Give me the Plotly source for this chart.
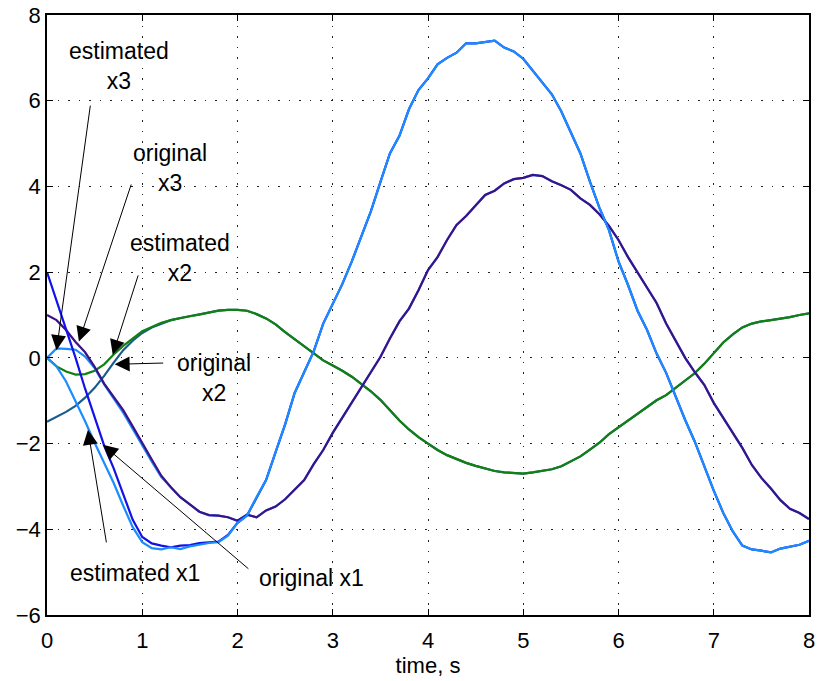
import numpy as np
import plotly.graph_objects as go

# time axis (s), sampled every 0.1 s
t = np.round(np.arange(0, 8.0001, 0.1), 1)

est_x1 = [0.0, -0.2, -0.55, -1.0, -1.48, -1.98, -2.45, -2.92, -3.45, -3.95,
          -4.30, -4.44, -4.47, -4.42, -4.46, -4.40, -4.36, -4.32, -4.30, -4.15,
          -3.85, -3.68, -3.25, -2.85, -2.20, -1.55, -0.82, -0.35, 0.15, 0.80,
          1.25, 1.72, 2.25, 2.85, 3.42, 4.10, 4.77, 5.18, 5.80, 6.25,
          6.52, 6.85, 7.00, 7.12, 7.34, 7.34, 7.37, 7.40, 7.24, 7.15,
          6.98, 6.70, 6.42, 6.15, 5.75, 5.25, 4.77, 4.11, 3.50, 2.98,
          2.25, 1.70, 1.10, 0.65, 0.10, -0.35, -0.90, -1.45, -1.95, -2.54,
          -3.10, -3.62, -4.05, -4.38, -4.47, -4.50, -4.54, -4.45, -4.40, -4.36,
          -4.27]

orig_x1 = [2.0, 1.35, 0.70, 0.0, -0.72, -1.38, -2.05, -2.58, -3.16, -3.78,
           -4.18, -4.33, -4.38, -4.42, -4.38, -4.37, -4.32, -4.30, -4.29, -4.13,
           -3.85, -3.68, -3.25, -2.85, -2.20, -1.55, -0.82, -0.35, 0.15, 0.80,
           1.25, 1.72, 2.25, 2.85, 3.42, 4.10, 4.77, 5.18, 5.80, 6.25,
           6.52, 6.85, 7.00, 7.12, 7.34, 7.34, 7.37, 7.40, 7.24, 7.15,
           6.98, 6.70, 6.42, 6.15, 5.75, 5.25, 4.77, 4.11, 3.50, 2.98,
           2.25, 1.70, 1.10, 0.65, 0.10, -0.35, -0.90, -1.45, -1.95, -2.54,
           -3.10, -3.62, -4.05, -4.38, -4.47, -4.50, -4.54, -4.45, -4.40, -4.36,
           -4.27]

orig_x2 = [-1.49, -1.38, -1.26, -1.12, -0.93, -0.70, -0.42, -0.11, 0.18, 0.40,
           0.58, 0.71, 0.80, 0.88, 0.93, 0.97, 1.01, 1.05, 1.10, 1.12,
           1.12, 1.10, 1.02, 0.92, 0.78, 0.60, 0.43, 0.26, 0.10, -0.06,
           -0.18, -0.30, -0.44, -0.60, -0.78, -0.98, -1.22, -1.46, -1.67, -1.85,
           -2.00, -2.15, -2.27, -2.36, -2.45, -2.52, -2.58, -2.64, -2.67, -2.69,
           -2.70, -2.67, -2.63, -2.60, -2.53, -2.42, -2.30, -2.14, -1.98, -1.78,
           -1.62, -1.45, -1.30, -1.13, -0.99, -0.87, -0.70, -0.55, -0.36, -0.14,
           0.12, 0.36, 0.55, 0.71, 0.80, 0.85, 0.88, 0.91, 0.95, 1.00,
           1.04]

est_x2 = [0.0, -0.20, -0.32, -0.39, -0.38, -0.30, -0.15, 0.08, 0.28, 0.46,
          0.62, 0.72, 0.82, 0.88, 0.93, 0.97, 1.01, 1.05, 1.10, 1.12,
          1.12, 1.10, 1.02, 0.92, 0.78, 0.60, 0.43, 0.26, 0.10, -0.06,
          -0.18, -0.30, -0.44, -0.60, -0.78, -0.98, -1.22, -1.46, -1.67, -1.85,
          -2.00, -2.15, -2.27, -2.36, -2.45, -2.52, -2.58, -2.64, -2.67, -2.69,
          -2.70, -2.67, -2.63, -2.60, -2.53, -2.42, -2.30, -2.14, -1.98, -1.78,
          -1.62, -1.45, -1.30, -1.13, -0.99, -0.87, -0.70, -0.55, -0.36, -0.14,
          0.12, 0.36, 0.55, 0.71, 0.80, 0.85, 0.88, 0.91, 0.95, 1.00,
          1.04]

orig_x3 = [1.00, 0.88, 0.65, 0.37, 0.13, -0.21, -0.60, -0.90, -1.22, -1.60,
           -2.00, -2.37, -2.75, -3.02, -3.25, -3.42, -3.59, -3.67, -3.68, -3.72,
           -3.80, -3.66, -3.72, -3.56, -3.47, -3.30, -3.08, -2.85, -2.48, -2.15,
           -1.75, -1.40, -1.06, -0.69, -0.33, 0.02, 0.45, 0.85, 1.15, 1.58,
           2.05, 2.35, 2.75, 3.10, 3.31, 3.56, 3.80, 3.90, 4.07, 4.17,
           4.20, 4.27, 4.24, 4.12, 4.03, 3.92, 3.72, 3.57, 3.35, 3.08,
           2.75, 2.35, 2.00, 1.62, 1.28, 0.80, 0.40, 0.00, -0.33, -0.63,
           -1.05, -1.40, -1.72, -2.10, -2.50, -2.80, -3.05, -3.32, -3.52, -3.62,
           -3.76]

est_x3 = [0.0, 0.22, 0.21, 0.19, 0.03, -0.24, -0.62, -0.95, -1.28, -1.66,
          -2.05, -2.42, -2.78, -3.02, -3.25, -3.42, -3.59, -3.67, -3.68, -3.72,
          -3.80, -3.66, -3.72, -3.56, -3.47, -3.30, -3.08, -2.85, -2.48, -2.15,
          -1.75, -1.40, -1.06, -0.69, -0.33, 0.02, 0.45, 0.85, 1.15, 1.58,
          2.05, 2.35, 2.75, 3.10, 3.31, 3.56, 3.80, 3.90, 4.07, 4.17,
          4.20, 4.27, 4.24, 4.12, 4.03, 3.92, 3.72, 3.57, 3.35, 3.08,
          2.75, 2.35, 2.00, 1.62, 1.28, 0.80, 0.40, 0.00, -0.33, -0.63,
          -1.05, -1.40, -1.72, -2.10, -2.50, -2.80, -3.05, -3.32, -3.52, -3.62,
          -3.76]

x_ticks = [0, 1, 2, 3, 4, 5, 6, 7, 8]
y_ticks = [-6, -4, -2, 0, 2, 4, 6, 8]

label_text = ["estimated<br>x3", "original<br>x3", "estimated<br>x2",
              "original<br>x2", "estimated x1", "original x1"]
label_pos = [(0.752, 6.81), (1.288, 4.44), (1.393, 2.32),
             (1.75, -0.47), (0.92, -5.02), (2.78, -5.14)]
arrow_head = [(0.10, 0.18), (0.335, 0.38), (0.69, 0.07),
              (0.71, -0.15), (0.43, -1.68), (0.587, -2.03)]
arrow_tail = [(0.457, 5.92), (0.889, 4.08), (0.962, 1.96),
              (1.236, -0.12), (0.626, -4.34), (2.13, -4.95)]

C_LBLUE = "#1A8CFF"
C_BLUE = "#1212E8"
C_TEAL = "#1B5B8C"
C_GREEN = "#128012"
C_PURPLE = "#3D1188"

fig = go.Figure()
series = [
    ("original x2", orig_x2, C_TEAL),
    ("estimated x2", est_x2, C_GREEN),
    ("estimated x3", est_x3, C_LBLUE),
    ("original x3", orig_x3, C_PURPLE),
    ("original x1", orig_x1, C_BLUE),
    ("estimated x1", est_x1, C_LBLUE),
]
for name, ys, col in series:
    fig.add_trace(go.Scatter(x=t, y=ys, mode="lines", name=name,
                             line=dict(color=col, width=2.2)))

FONT = "Liberation Sans, Arial, Helvetica, sans-serif"
ann = []
for txt, (tx, ty) in zip(label_text, label_pos):
    ann.append(dict(x=tx, y=ty, xref="x", yref="y", text=txt, showarrow=False,
                    font=dict(family=FONT, size=23, color="black"), align="center"))
for (hx, hy), (axx, ayy) in zip(arrow_head, arrow_tail):
    ann.append(dict(x=hx, y=hy, xref="x", yref="y", ax=axx, ay=ayy,
                    axref="x", ayref="y", text="", showarrow=True,
                    arrowhead=2, arrowsize=3, arrowwidth=1, arrowcolor="black",
                    standoff=0, startstandoff=0))

axis_common = dict(showline=True, linecolor="black", linewidth=1.5, mirror="allticks",
                   ticks="inside", ticklen=6, tickcolor="black", tickwidth=1,
                   showgrid=True, gridcolor="#222222", gridwidth=1, griddash="1.5px,9px",
                   zeroline=False, automargin=False, ticklabeloverflow="allow",
                   tickfont=dict(family=FONT, size=22, color="black"))

fig.update_layout(
    width=822, height=681,
    margin=dict(l=47, r=13, t=15, b=66),
    paper_bgcolor="white", plot_bgcolor="white",
    showlegend=False,
    annotations=ann,
    xaxis=dict(range=[0, 8], tickvals=x_ticks, ticklabelstandoff=5,
               title=dict(text="time, s",
                          font=dict(family=FONT, size=22, color="black"), standoff=0),
               **axis_common),
    yaxis=dict(range=[-6, 8], tickvals=y_ticks, ticklabelstandoff=0, **axis_common),
)

# remove the page's default body margin so the figure fills the window exactly
fig.write_html("out.html", config={"displayModeBar": False},
               post_script="document.body.style.margin='0';document.body.style.overflow='hidden';")
